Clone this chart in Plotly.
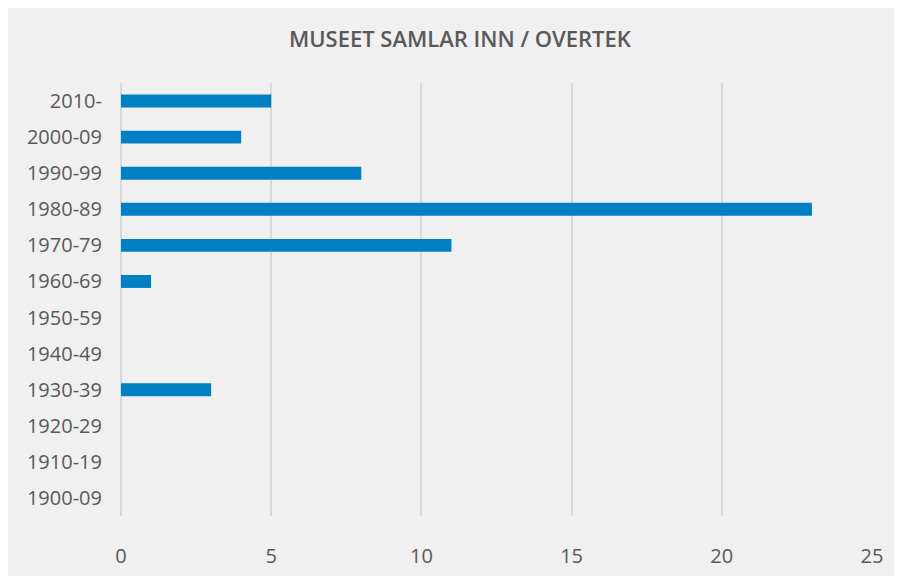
import plotly.graph_objects as go

categories = ["1900-09", "1910-19", "1920-29", "1930-39", "1940-49", "1950-59",
              "1960-69", "1970-79", "1980-89", "1990-99", "2000-09", "2010-"]
values = [0, 0, 0, 3, 0, 0, 1, 11, 23, 8, 4, 5]
x_ticks = [0, 5, 10, 15, 20, 25]
title = "MUSEET SAMLAR INN / OVERTEK"

fig = go.Figure(go.Bar(
    y=categories, x=values, orientation="h",
    marker=dict(color="#0080c4", line=dict(width=0)),
    hoverinfo="skip",
))

fig.update_layout(
    width=902, height=576,
    margin=dict(l=113, r=38, t=75, b=68),
    paper_bgcolor="#f0f0f0", plot_bgcolor="#f0f0f0",
    bargap=0.64,
    showlegend=False,
    title=dict(text=title, x=0.501, xanchor="center", y=0.946, yanchor="middle",
               font=dict(family="Open Sans", size=22, weight=600, color="#595959")),
    font=dict(family="Open Sans", size=20, color="#595959"),
)
fig.update_xaxes(range=[0, 25], tickvals=x_ticks, showgrid=True,
                 gridcolor="#d9d9d9", gridwidth=1.5, zeroline=True,
                 zerolinecolor="#d9d9d9", zerolinewidth=1.5,
                 showline=False, ticks="outside", ticklen=22, tickcolor="rgba(0,0,0,0)",
                 tickfont=dict(family="Open Sans", size=20, color="#595959"))
fig.update_yaxes(type="category", categoryorder="array", categoryarray=categories,
                 showgrid=False, ticks="outside", ticklen=14, tickcolor="rgba(0,0,0,0)",
                 tickfont=dict(family="Open Sans", size=20, color="#595959"))

fig.write_html("out.html")
